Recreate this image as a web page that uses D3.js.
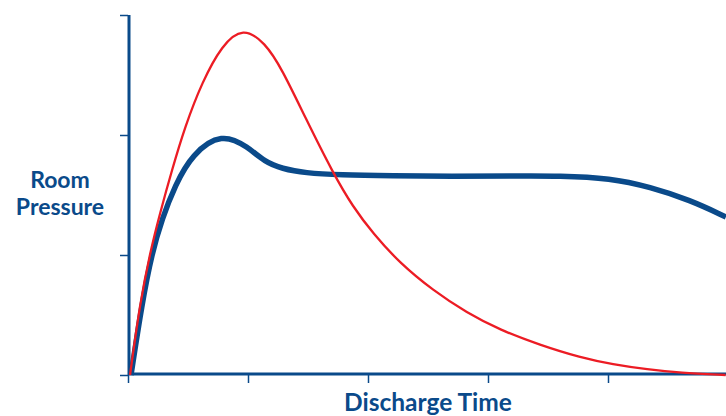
<!DOCTYPE html>
<html>
<head>
<meta charset="utf-8">
<script src="https://cdn.jsdelivr.net/npm/d3@7"></script>
<style>
  body { margin: 0; background: #fff; }
  svg { display: block; }
</style>
</head>
<body>
<svg id="chart" width="726" height="416"></svg>
<script>
// tick positions (no labels on the original)
var xTicks = [0, 1, 2, 3, 4, 5];
var yTicks = [0, 1, 2, 3];

// blue curve (thick)
var blueX = [0.025, 0.117, 0.2, 0.283, 0.392, 0.533, 0.783, 1.0, 1.142, 1.283, 1.475, 1.767, 2.2, 2.7, 3.2, 3.6, 4.02, 4.35, 4.683, 4.983];
var blueY = [0, 0.6, 1.017, 1.3, 1.58, 1.84, 2.02, 1.9, 1.775, 1.72, 1.683, 1.667, 1.66, 1.655, 1.658, 1.66, 1.64, 1.567, 1.458, 1.317];

// red curve (thin)
var redX = [0.017, 0.1, 0.183, 0.267, 0.367, 0.475, 0.617, 0.783, 0.958, 1.142, 1.283, 1.475, 1.708, 1.875, 2.042, 2.267, 2.542, 2.825, 3.1, 3.433, 3.77, 4.04, 4.33, 4.6, 4.98];
var redY = [0, 0.6, 1.017, 1.35, 1.71, 2.07, 2.44, 2.75, 2.9, 2.77, 2.55, 2.15, 1.683, 1.40, 1.18, 0.93, 0.705, 0.517, 0.375, 0.25, 0.145, 0.088, 0.046, 0.018, 0];

var navy = '#0a4a8a', red = '#ec1c24';

var svg = d3.select('#chart');
var x = d3.scaleLinear().domain([0, 5]).range([128, 728]),
    y = d3.scaleLinear().domain([0, 3]).range([375, 15]);

// axes
var xAxis = d3.axisBottom(x).tickValues(xTicks).tickSize(8).tickFormat(''),
    yAxis = d3.axisLeft(y).tickValues(yTicks).tickSize(8).tickFormat('');

var gy = svg.append('g').attr('transform', 'translate(128,0)').call(yAxis);
var gx = svg.append('g').attr('transform', 'translate(0,375)').call(xAxis);
[gx, gy].forEach(function(g) {
    g.select('.domain').remove();
    g.selectAll('.tick line').attr('stroke', navy).attr('stroke-width', 1.5);
});
svg.append('line').attr('x1', x(0) + 1).attr('x2', x(0) + 1).attr('y1', y(3)).attr('y2', y(0))
    .attr('stroke', navy).attr('stroke-width', 3);
svg.append('line').attr('x1', x(0)).attr('x2', 726).attr('y1', y(0) - 1).attr('y2', y(0) - 1)
    .attr('stroke', navy).attr('stroke-width', 3);

var line = d3.line().x(function(d) { return x(d[0]); }).y(function(d) { return y(d[1]); })
    .curve(d3.curveBasis);

svg.append('path').datum(blueX.map(function(v, i) { return [v, blueY[i]]; }))
    .attr('d', line).attr('fill', 'none').attr('stroke', navy).attr('stroke-width', 5.5);

svg.append('path').datum(redX.map(function(v, i) { return [v, redY[i]]; }))
    .attr('d', line).attr('fill', 'none').attr('stroke', red).attr('stroke-width', 2.3);

// labels
var font = 'Lato, "Open Sans", sans-serif';
svg.append('text').attr('x', 60).attr('y', 188).attr('text-anchor', 'middle')
    .attr('font-family', font).attr('font-weight', 'bold').attr('font-size', 23)
    .attr('fill', navy).text('Room');
svg.append('text').attr('x', 60).attr('y', 215).attr('text-anchor', 'middle')
    .attr('font-family', font).attr('font-weight', 'bold').attr('font-size', 23)
    .attr('fill', navy).text('Pressure');
svg.append('text').attr('x', 428).attr('y', 411).attr('text-anchor', 'middle')
    .attr('font-family', font).attr('font-weight', 'bold').attr('font-size', 24.5)
    .attr('fill', navy).text('Discharge Time');
</script>
</body>
</html>
